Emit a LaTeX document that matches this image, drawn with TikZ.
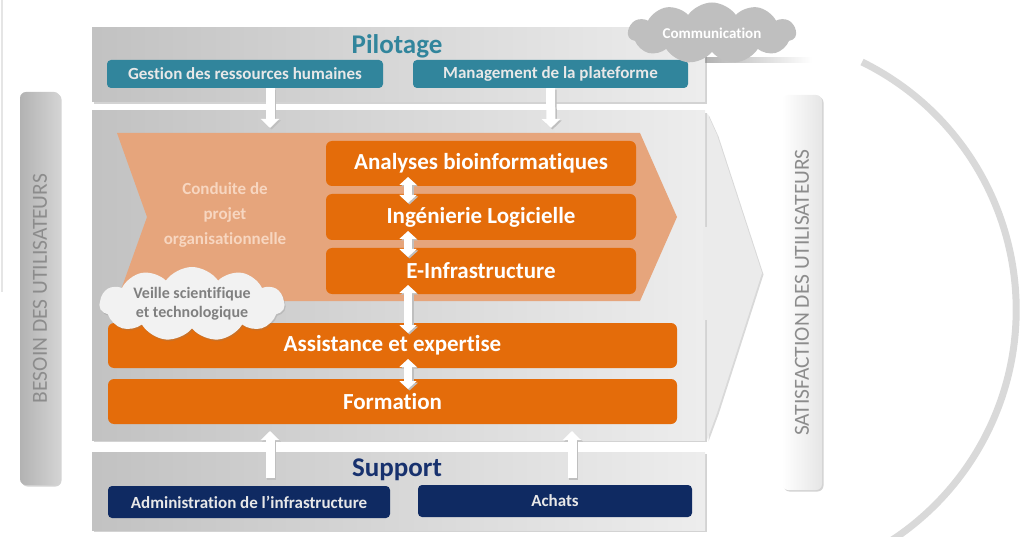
\documentclass[tikz,border=0pt]{standalone}
\usepackage{fontspec}
\setmainfont{Carlito}[Ligatures=NoCommon]
\usetikzlibrary{shapes.symbols,shadows,calc,arrows.meta}
\definecolor{teal1}{HTML}{31859C}
\definecolor{orng}{HTML}{E46C0A}
\definecolor{lorng}{HTML}{E6A57C}
\definecolor{navy1}{HTML}{0F2A62}
\definecolor{navyT}{HTML}{17316E}
\definecolor{txtlt}{HTML}{E8E8E8}
\definecolor{chevtxt}{HTML}{F7D6C0}
\definecolor{bartxt}{HTML}{8C8C8C}
\definecolor{arcgray}{HTML}{D9D9D9}
\tikzset{
  panel/.style={left color=black!24, right color=black!7, draw=none,
    drop shadow={opacity=0.35,shadow xshift=1.5pt,shadow yshift=-2pt}},
  tealbox/.style={rounded corners=4pt, fill=teal1, text=txtlt,
    font=\bfseries\fontsize{17}{19}\selectfont, minimum height=28pt, inner sep=0pt},
  orangebox/.style={rounded corners=6pt, fill=orng, text=white,
    font=\bfseries\fontsize{23}{26}\selectfont, minimum height=45pt, inner sep=0pt},
  navybox/.style={rounded corners=4pt, fill=navy1, text=txtlt,
    font=\bfseries\fontsize{17}{19}\selectfont, minimum height=32pt, inner sep=0pt},
  title/.style={font=\bfseries\fontsize{27}{30}\selectfont},
  sidebar/.style={rounded corners=6pt, minimum width=40pt, inner sep=0pt,
    drop shadow={opacity=0.35,shadow xshift=1.5pt,shadow yshift=-1.5pt}},
  bartext/.style={rotate=90, text=bartxt, font=\fontsize{21.5}{24}\selectfont},
  blockarrow/.style={line width=9pt, draw=white, -{Triangle[width=18pt,length=9pt]}},
  blockshadow/.style={line width=9pt, draw=black!25, -{Triangle[width=18pt,length=9pt]},
    transform canvas={shift={(1.5pt,-1.5pt)}}},
  dblarrow/.style={line width=8pt, draw=white, {Triangle[width=17pt,length=8pt]}-{Triangle[width=17pt,length=8pt]}},
  dblshadow/.style={line width=8pt, draw=black!25, {Triangle[width=17pt,length=8pt]}-{Triangle[width=17pt,length=8pt]},
    transform canvas={shift={(1.5pt,-1.5pt)}}},
  cloudnode/.style={cloud, cloud puffs=11, cloud puff arc=110, aspect=3.3, inner sep=0pt}
}
\begin{document}
\begin{tikzpicture}[x=1pt,y=-1pt]
\useasboundingbox (0,0) rectangle (1022,537);
% left thin line and big arc
\draw[line width=1.5pt, black!10] (2,0) -- (2,292);
\draw[line width=7pt, arcgray] (862,62) arc[start angle=-63.8, end angle=58, radius=276];

% side bars
\node[sidebar, left color=black!30, right color=black!17, minimum height=393pt] (besoin) at (40,288.5) {};
\node[bartext] (besointxt) at (besoin.center) {BESOIN DES UTILISATEURS};
\node[sidebar, left color=white, right color=black!10, minimum height=395pt] (satis) at (802,292.5) {};
\node[bartext] (satistxt) at (satis.center) {SATISFACTION DES UTILISATEURS};

% communication shadow
\fill[left color=black!30, right color=white] (705,58) rectangle (812,63);

% panels
\node[panel, minimum width=613pt, minimum height=74pt, inner sep=0pt] (pil) at (398.5,65) {};
\node[panel, minimum width=613pt, minimum height=329pt, inner sep=0pt] (body) at (398.5,275.5) {};
\node[panel, minimum width=613pt, minimum height=78pt, inner sep=0pt] (sup) at (398.5,491) {};

% big arrow head
\fill[black!8, drop shadow={opacity=0.3,shadow xshift=1.5pt,shadow yshift=-1.5pt}]
  (707,113) -- (717,135) -- (762,273) -- (717,413) -- (707,440) -- cycle;
\fill[black!8] (703,227) rectangle (708,320);

% titles
\node[title, text=teal1] (piltitle) at (397,46) {Pilotage};
\node[title, text=navyT] (suptitle) at (397,470) {Support};

% teal boxes
\node[tealbox, minimum width=276pt] (gestion) at (245,74) {Gestion des ressources humaines};
\node[tealbox, minimum width=275pt] (manag) at (550.5,74) {Management de la plateforme};

% communication cloud
\node[cloudnode, fill=black!25, minimum width=168pt, minimum height=48pt,
  text=white, font=\bfseries\fontsize{15}{17}\selectfont] (comm) at (712,33) {Communication};

% chevron
\fill[lorng] (117,133) -- (640,133) -- (677,217) -- (640,301) -- (117,301) -- (147,217) -- cycle;
\node[text=chevtxt, align=center, font=\bfseries\fontsize{17}{25}\selectfont] (conduite) at (225,215)
  {Conduite de\\projet\\organisationnelle};

% orange boxes
\node[orangebox, minimum width=310pt] (analyses) at (481,163.5) {Analyses bioinformatiques};
\node[orangebox, minimum width=310pt, minimum height=46pt] (inge) at (481,217) {Ingénierie Logicielle};
\node[orangebox, minimum width=310pt, minimum height=46pt] (einfra) at (481,271) {E-Infrastructure};
\node[orangebox, minimum width=569pt] (assist) at (392.5,345.5) {Assistance et expertise};
\node[orangebox, minimum width=569pt] (formation) at (392.5,401.5) {Formation};

% veille cloud
\node[cloudnode, fill=black!5, minimum width=185pt, minimum height=74pt,
  drop shadow={opacity=0.25,shadow xshift=1pt,shadow yshift=-1.5pt},
  text=black!50, align=center, font=\bfseries\fontsize{16}{19}\selectfont] (veille) at (192,304)
  {Veille scientifique\\et technologique};

% navy boxes
\node[navybox, minimum width=282pt] (admin) at (249,502) {Administration de l’infrastructure};
\node[navybox, minimum width=274pt] (achats) at (555,501) {Achats};

% arrow coordinates
\coordinate (g1) at ($(gestion.south)+(25,0)$);
\coordinate (g2) at (270,128);
\coordinate (m1) at (manag.south);
\coordinate (m2) at (551,128);
\coordinate (s1) at (270,478);
\coordinate (s2) at (270,431);
\coordinate (t1) at (572,478);
\coordinate (t2) at (572,431);
\coordinate (d1a) at (408,177); \coordinate (d1b) at (408,203);
\coordinate (d2a) at (408,231); \coordinate (d2b) at (408,257);
\coordinate (d3a) at (408,285); \coordinate (d3b) at (408,333);
\coordinate (d4a) at (408,359); \coordinate (d4b) at (408,389);

\foreach \a/\b in {g1/g2, m1/m2, s1/s2, t1/t2}{
  \draw[blockshadow] (\a) -- (\b);
  \draw[blockarrow] (\a) -- (\b);
}
\foreach \a/\b in {d1a/d1b, d2a/d2b, d3a/d3b, d4a/d4b}{
  \draw[dblshadow] (\a) -- (\b);
  \draw[dblarrow] (\a) -- (\b);
}
\end{tikzpicture}
\end{document}
